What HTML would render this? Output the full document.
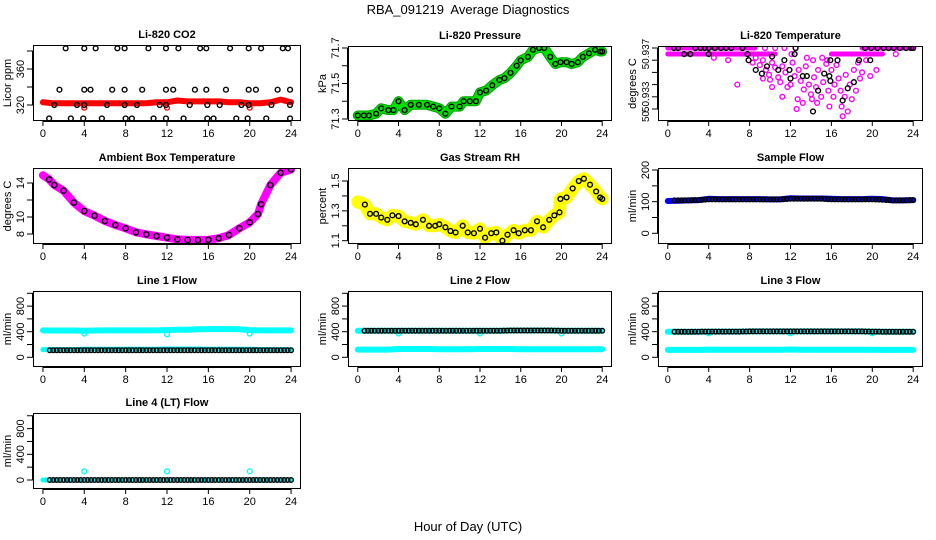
<!DOCTYPE html>
<html><head><meta charset="utf-8"><style>
html,body{margin:0;padding:0;background:#fff;}
svg{display:block;font-family:"Liberation Sans",Arial,sans-serif;}
</style></head><body>
<svg id="chart" width="936" height="540" viewBox="0 0 936 540" xmlns="http://www.w3.org/2000/svg">
<rect width="936" height="540" fill="#fff"/>
<text x="468" y="14" text-anchor="middle" font-size="13">RBA_091219&#160; Average Diagnostics</text>
<text x="468" y="531" text-anchor="middle" font-size="13">Hour of Day (UTC)</text>
</svg>
<script>
const xTickLabels=[0,4,8,12,16,20,24];
const hours=[0,1,2,3,4,5,6,7,8,9,10,11,12,13,14,15,16,17,18,19,20,21,22,23,24];
// CO2
const co2Red=[323,322,322,322,322,322,322,322,322,322,322,323,323,325,324,324,324,324,323,323,322,322,323,326,323];
const co2DipT=[4,12,20];
const co2DipV=[317,317,317];
const co2BlackT=[2.2,4.0,5.1,7.2,7.9,10.2,11.9,13.1,15.2,15.8,18.1,19.9,21.1,23.2,23.7,1.6,4.0,4.6,6.7,7.9,9.6,11.9,12.6,14.7,15.8,17.7,19.9,20.6,22.7,23.9,1.1,3.3,4.0,6.2,7.9,9.1,11.3,11.9,14.2,15.9,17.1,19.2,19.9,22.1,23.9,0.6,2.7,3.9,5.7,8.0,8.6,10.7,11.9,13.6,15.9,16.5,18.7,19.8,21.6,23.9];
const co2BlackV=[383,383,383,383,383,383,383,383,383,383,383,383,383,383,383,337,337,337,337,337,337,337,337,337,337,337,337,337,337,337,320,320,320,320,320,320,320,320,320,320,320,320,320,320,320,305,305,305,305,305,305,305,305,305,305,305,305,305,305,305];
// Pressure
const presT=[0,0.6,1.1,1.8,2.3,3,3.5,4,4.6,5.2,6,6.8,7.4,8,8.6,9.2,10,10.4,11,11.6,12,12.6,13.2,13.9,14.4,15,15.6,16,16.7,17.2,17.8,18.3,18.9,19.4,19.9,20.5,21,21.6,22.1,22.7,23.3,23.8,24];
const presV=[71.32,71.32,71.32,71.33,71.36,71.35,71.35,71.40,71.35,71.38,71.38,71.38,71.37,71.36,71.33,71.37,71.37,71.40,71.40,71.40,71.45,71.46,71.49,71.52,71.53,71.56,71.60,71.63,71.65,71.69,71.70,71.70,71.65,71.61,71.62,71.62,71.61,71.62,71.65,71.67,71.69,71.68,71.68];
// Li-820 temperature
const tBandStart=[0,19,0,16];
const tBandEnd=[8.5,24,10.5,21];
const tBandV=[50.937,50.937,50.93651,50.93651];
const tMagT=[7.9,8.3,8.6,9,9.3,9.6,9.9,10,10.2,10.5,10.8,11,11.2,11.5,11.7,12,12.2,12.4,12.7,12.8,13,13.3,13.5,13.8,14,14.1,14.3,14.5,14.7,15,15.2,15.5,15.7,16,16.3,16.5,16.7,16.9,17,17.1,17.3,17.4,17.6,17.8,18,18.2,18.4,18.6,19,19.4,19.8,20.4,12.6,6.8,5.9,4.5,22.3,10.2,11.2,14.6,15.8,13.2,16.2,18.8,9.3,12.5,9.5,10.5,11.4,13.6,14.2,15.1,15.6,12.1];
const tMagV=[50.9360,50.9358,50.9362,50.9356,50.9360,50.9352,50.9348,50.9344,50.9358,50.9354,50.9346,50.9342,50.9355,50.9350,50.9338,50.9340,50.9358,50.9347,50.9328,50.9352,50.9343,50.9336,50.9355,50.9340,50.9332,50.9328,50.9346,50.9338,50.9352,50.9330,50.9342,50.9357,50.9335,50.9352,50.9340,50.9356,50.9345,50.9335,50.9322,50.9314,50.9330,50.9348,50.9318,50.9340,50.9328,50.9352,50.9335,50.9358,50.9350,50.9360,50.9347,50.9352,50.9320,50.9340,50.9360,50.9362,50.9365,50.9338,50.9330,50.9325,50.9322,50.9325,50.9330,50.9345,50.9345,50.9370,50.9370,50.9370,50.9370,50.9362,50.9360,50.9362,50.9360,50.9365];
const tBlackT=[0.6,1,1.6,2.2,2.7,3.2,3.6,4,4,4.6,5.2,5.7,6.2,7.3,7.8,7.9,8.6,9.2,9.7,10.2,10.8,11.4,11.9,12,12.4,12.5,13.2,13.6,14.2,14.7,15.3,15.8,15.9,15.9,16.6,17.1,17.6,18.2,18.7,19.3,19.8,19.9,20.5,21.1,21.6,22.1,22.7,23.3,23.8,24];
const tBlackV=[50.937,50.937,50.9365,50.9365,50.937,50.937,50.937,50.937,50.9365,50.937,50.937,50.937,50.937,50.937,50.9365,50.936,50.9352,50.9349,50.9355,50.9363,50.9352,50.936,50.9352,50.9345,50.9365,50.937,50.9347,50.9347,50.9318,50.9335,50.9349,50.9347,50.936,50.9343,50.936,50.9327,50.9337,50.9342,50.936,50.937,50.936,50.937,50.937,50.937,50.937,50.937,50.937,50.937,50.937,50.937];
// Ambient box temperature
const ambT=[0,0.6,1.1,2,3,4,5,6,7,8,9,10,11,12,13,14,15,16,17,18,19,20,20.8,21.1,22,23,24];
const ambV=[14.9,14.43,13.76,13.1,11.7,10.7,10.15,9.53,9.06,8.67,8.2,7.96,7.76,7.57,7.37,7.3,7.3,7.33,7.5,7.88,8.67,9.37,10.35,11.5,13.76,15.2,15.6];
// Gas stream RH
const rhT=[0,0.7,1.2,1.8,2.3,2.9,3.4,4,4.6,5.2,5.7,6.4,7,7.6,8,8.6,9.1,9.6,10.3,10.8,11.4,12,12.5,13.1,13.6,14.2,14.7,15.3,15.8,16.4,17,17.6,18.2,18.8,19.3,19.8,19.9,20.5,21.1,21.7,22.2,22.8,23.4,23.8,24];
const rhV=[1.36,1.342,1.28,1.28,1.255,1.24,1.27,1.265,1.23,1.22,1.21,1.24,1.2,1.2,1.21,1.19,1.165,1.155,1.2,1.155,1.15,1.18,1.12,1.15,1.155,1.1,1.14,1.17,1.15,1.17,1.17,1.23,1.19,1.24,1.27,1.29,1.38,1.39,1.45,1.5,1.515,1.475,1.43,1.39,1.38];
// Sample flow
const sampleBlue=[102,103,104,105,109,108,108,108,108,108,107,107,111,110,110,110,109,108,108,108,109,108,104,104,105];
const sampleBlack=[104,104,104,105,107,107,107,107,107,107,107,107,109,109,109,109,107,107,107,107,107,106,104,104,105];
// Line flows
const l1CyanHi=[420,418,418,418,415,418,420,420,420,420,420,420,425,430,432,438,440,440,440,438,425,420,420,420,420];
const l1CyanLo=[120,120,120,120,125,125,125,125,125,125,125,125,130,130,130,130,125,125,125,125,125,122,120,120,120];
const l1Black=[110,110,110,110,110,110,110,110,110,110,110,110,110,110,110,110,110,110,110,110,110,110,110,110,110];
const l2CyanHi=[415,415,415,415,415,415,415,415,415,415,415,415,415,415,415,418,418,418,418,418,415,415,415,415,415];
const l2CyanLo=[120,120,120,120,130,130,130,130,125,125,125,125,130,130,130,130,125,125,125,125,125,125,125,125,125];
const l2Black=[415,415,415,415,415,415,415,415,415,415,415,415,415,415,415,418,418,418,418,418,415,415,415,415,415];
const l3CyanHi=[400,400,400,400,402,402,402,402,405,405,405,405,405,405,405,405,405,405,405,405,402,400,400,400,400];
const l3CyanLo=[115,115,115,115,120,118,118,118,118,118,118,118,122,118,118,118,118,118,118,118,118,115,115,115,115];
const l3Black=[400,400,400,400,402,402,402,402,405,405,405,405,405,405,405,405,405,405,405,405,402,400,400,400,400];
const l4Cyan=[0,0,0,0,0,0,0,0,0,0,0,0,0,0,0,0,0,0,0,0,0,0,0,0,0];
const l4Black=[0,0,0,0,0,0,0,0,0,0,0,0,0,0,0,0,0,0,0,0,0,0,0,0,0];
const dipT=[4,12,20];
const l1DipV=[370,360,370];
const l2DipV=[372,372,372];
const l3DipV=[375,375,375];
const l4SpikeV=[135,135,135];

const NS='http://www.w3.org/2000/svg';
const svg=document.getElementById('chart');
let clipId=0;
function mk(tag,parent,attrs){const e=document.createElementNS(NS,tag);for(const k in attrs)e.setAttribute(k,attrs[k]);parent.appendChild(e);return e;}

function makePanel(name,title,ylab,box,cal,ticks,labels,lfs){
  const [x0,x1,y0,y1]=box;
  const g=mk('g',svg,{});
  
  
  const X=h=>x0+(h+0.96)*(x1-x0)/25.92;
  const Y=v=>cal[1]+(v-cal[0])*(cal[3]-cal[1])/(cal[2]-cal[0]);
  const t=mk('text',g,{x:(x0+x1)/2,y:y0-7,'text-anchor':'middle','font-size':11,'font-weight':'bold'});
  t.textContent=title;
  
  
  const cid='c'+(clipId++);
  const cp=mk('clipPath',g,{id:cid});
  mk('rect',cp,{x:x0,y:y0,width:x1-x0,height:y1-y0});
  const plot=mk('g',g,{'clip-path':'url(#'+cid+')'});
  
  
  const frame=mk('rect',g,{x:x0+0.5,y:y0+0.5,width:x1-x0-1,height:y1-y0-1,fill:'none',stroke:'#000','stroke-width':1});
  
  
  const xa=mk('g',g,{});
  
  
  mk('line',xa,{x1:X(0),x2:X(24),y1:y1+0.5,y2:y1+0.5,stroke:'#000'});
  xTickLabels.forEach(h=>{
    mk('line',xa,{x1:X(h),x2:X(h),y1:y1,y2:y1+5,stroke:'#000'});
    const tl=mk('text',xa,{x:X(h),y:y1+16,'text-anchor':'middle','font-size':11});
    tl.textContent=h;
    
    
  });
  const ya=mk('g',g,{});
  
  
  mk('line',ya,{x1:x0-0.5,x2:x0-0.5,y1:Y(ticks[0]),y2:Y(ticks[ticks.length-1]),stroke:'#000'});
  ticks.forEach(v=>{mk('line',ya,{x1:x0-6,x2:x0,y1:Y(v),y2:Y(v),stroke:'#000'});});
  labels.forEach(l=>{
    const yy=Y(l[0]);
    const tl=mk('text',ya,{x:x0-9,y:yy,'text-anchor':'middle','font-size':lfs||11,transform:'rotate(-90 '+(x0-9)+' '+yy+')'});
    tl.textContent=l[1];
    
    
  });
  const yl=mk('text',g,{x:x0-22,y:(y0+y1)/2,'text-anchor':'middle','font-size':11,transform:'rotate(-90 '+(x0-22)+' '+((y0+y1)/2)+')'});
  yl.textContent=ylab;
  
  
  return {X,Y,plot};
}
function band(p,ts,vs,color,w,name){
  const pts=ts.map((t,i)=>p.X(t).toFixed(1)+','+p.Y(vs[i]).toFixed(1)).join(' ');
  const l=mk('polyline',p.plot,{points:pts,fill:'none',stroke:color,'stroke-width':w,'stroke-linejoin':'round','stroke-linecap':'round'});
  
  
}
function pts(p,ts,vs,color,name,r){
  const g=mk('g',p.plot,{});
  
  
  ts.forEach((t,i)=>{
    const c=mk('circle',g,{cx:p.X(t),cy:p.Y(vs[i]),r:r||2.4,fill:'none',stroke:color,'stroke-width':1.4});
    
    
  });
}
function denseCircles(p,vals,color,name,t0){
  const ts=[],vs=[];
  for(let i=0;i<hours.length-1;i++){
    [0,0.33,0.66].forEach(f=>{const t=hours[i]+f; if(t>=t0){ts.push(t);vs.push(vals[i]+(vals[i+1]-vals[i])*f);} });
  }
  ts.push(24);vs.push(vals[vals.length-1]);
  pts(p,ts,vs,color,name,2.3);
}

let p=makePanel('panel-co2','Li-820 CO2','Licor ppm',[33,301,45,121],[320,105,360,69],[320,340,360,380],[[320,'320'],[360,'360']]);
band(p,hours,co2Red,'#ff0000',6,'co2-red-series');
pts(p,co2DipT,co2DipV,'#ff0000','co2-red-dips');
pts(p,co2BlackT,co2BlackV,'#000','co2-black-points');

p=makePanel('panel-pressure','Li-820 Pressure','kPa',[348,612,46,121],[71.3,119,71.7,48],[71.3,71.4,71.5,71.6,71.7],[[71.3,'71.3'],[71.5,'71.5'],[71.7,'71.7']]);
band(p,presT,presV,'#00a000',10,'pressure-green-edge');
band(p,presT,presV,'#00e000',8,'pressure-green-series');
pts(p,presT,presV,'#000','pressure-black-points');

p=makePanel('panel-li820-temp','Li-820 Temperature','degrees C',[658,923,46,121],[50.937,48,50.932,109],[50.937,50.936,50.935,50.934,50.933,50.932],[[50.9365,'50.937'],[50.933,'50.933'],[50.9315,'50.']],10);
tBandStart.forEach((s,i)=>band(p,[s,tBandEnd[i]],[tBandV[i],tBandV[i]],'#ff00ff',5,'temp-magenta-band'));
pts(p,tMagT,tMagV,'#ff00ff','temp-magenta-points');
pts(p,tBlackT,tBlackV,'#000','temp-black-points');

p=makePanel('panel-ambient-temp','Ambient Box Temperature','degrees C',[33,301,168,244],[8,234,14,183],[8,10,12,14],[[8,'8'],[10,'10'],[14,'14']]);
band(p,ambT,ambV,'#ff00ff',8,'ambient-magenta-series');
pts(p,ambT.slice(1),ambV.slice(1),'#000','ambient-black-points',2.6);

p=makePanel('panel-rh','Gas Stream RH','percent',[348,612,168,244],[1.1,240.7,1.5,181],[1.1,1.2,1.3,1.4,1.5],[[1.1,'1.1'],[1.3,'1.3'],[1.5,'1.5']]);
band(p,rhT,rhV,'#ffff00',13,'rh-yellow-series');
pts(p,rhT.slice(1),rhV.slice(1),'#000','rh-black-points');

p=makePanel('panel-sample-flow','Sample Flow','ml/min',[658,923,168,244],[0,233.3,200,170],[0,50,100,150,200],[[0,'0'],[100,'100'],[200,'200']]);
band(p,hours,sampleBlue,'#0000ff',6,'sample-blue-series');
denseCircles(p,sampleBlack,'#000','sample-black-points',0.4);
const flowTicks=[0,200,400,600,800,1000];
const flowLabels=[[0,'0'],[400,'400'],[800,'800']];

p=makePanel('panel-line1','Line 1 Flow','ml/min',[33,301,291,367],[0,357.3,400,331.7],flowTicks,flowLabels);
band(p,hours,l1CyanHi,'#00ffff',6,'line1-cyan-high');
band(p,hours,l1CyanLo,'#00ffff',5,'line1-cyan-low');
pts(p,dipT,l1DipV,'#00ffff','line1-dips');
denseCircles(p,l1Black,'#000','line1-black-points',0.5);

p=makePanel('panel-line2','Line 2 Flow','ml/min',[348,612,291,367],[0,357.3,400,331.7],flowTicks,flowLabels);
band(p,hours,l2CyanHi,'#00ffff',6,'line2-cyan-high');
band(p,hours,l2CyanLo,'#00ffff',6,'line2-cyan-low');
pts(p,dipT,l2DipV,'#00ffff','line2-dips');
denseCircles(p,l2Black,'#000','line2-black-points',0.5);

p=makePanel('panel-line3','Line 3 Flow','ml/min',[658,923,291,367],[0,357.3,400,331.7],flowTicks,flowLabels);
band(p,hours,l3CyanHi,'#00ffff',6,'line3-cyan-high');
band(p,hours,l3CyanLo,'#00ffff',6,'line3-cyan-low');
pts(p,dipT,l3DipV,'#00ffff','line3-dips');
denseCircles(p,l3Black,'#000','line3-black-points',0.5);

p=makePanel('panel-line4','Line 4 (LT) Flow','ml/min',[33,301,413,489],[0,480,400,454.3],flowTicks,flowLabels);
band(p,hours,l4Cyan,'#00ffff',5,'line4-cyan-series');
pts(p,dipT,l4SpikeV,'#00ffff','line4-spikes');
denseCircles(p,l4Black,'#000','line4-black-points',0.5);
</script>
</body></html>
